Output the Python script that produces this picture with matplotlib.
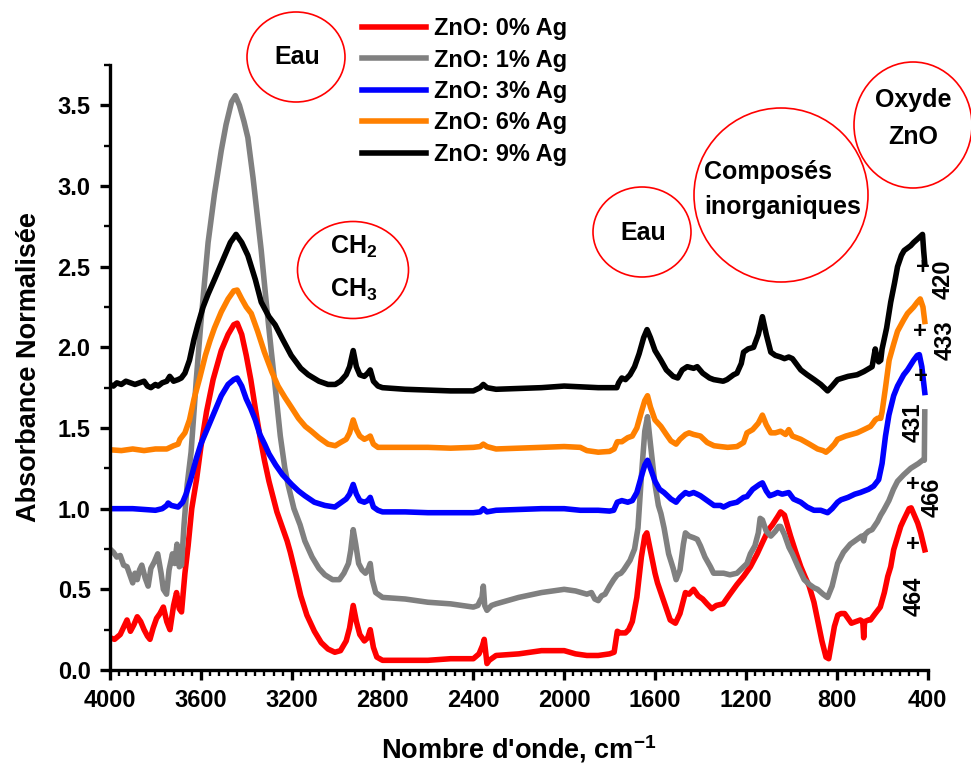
import matplotlib
matplotlib.use('Agg')
import matplotlib.pyplot as plt
from matplotlib.patches import Ellipse
from matplotlib.ticker import MultipleLocator, FormatStrFormatter

# ---- spectra: wavenumber (cm-1) / normalised absorbance ----
wn_0 = [4000, 3980, 3955, 3935, 3925, 3910, 3895, 3880, 3865, 3850, 3835, 3824, 3810, 3795, 3780,
        3765, 3750, 3736, 3720, 3707, 3695, 3685, 3670, 3656, 3640, 3619, 3600, 3575, 3546, 3510,
        3480, 3455, 3440, 3420, 3400, 3380, 3360, 3340, 3320, 3300, 3280, 3265, 3240, 3220, 3206,
        3180, 3160, 3133, 3100, 3070, 3040, 3010, 2985, 2960, 2945, 2929, 2915, 2900, 2880, 2865,
        2854, 2840, 2825, 2800, 2700, 2600, 2500, 2400, 2375, 2360, 2352, 2340, 2330, 2300, 2200,
        2100, 2000, 1950, 1900, 1850, 1800, 1780, 1766, 1753, 1730, 1716, 1700, 1680, 1660, 1645,
        1636, 1620, 1600, 1589, 1560, 1533, 1510, 1490, 1466, 1450, 1430, 1410, 1390, 1371, 1350,
        1330, 1300, 1270, 1239, 1210, 1180, 1150, 1127, 1100, 1083, 1060, 1047, 1030, 1003, 980,
        958, 940, 921, 900, 884, 865, 847, 835, 825, 810, 795, 781, 765, 750, 735,
        715, 696, 685, 681, 677, 660, 651, 630, 608, 590, 575, 562, 549, 518, 505,
        481, 472, 455, 443, 430, 420, 412]
ab_0 = [0.20, 0.19, 0.22, 0.28, 0.31, 0.24, 0.28, 0.33, 0.30, 0.25, 0.21, 0.19, 0.26, 0.32, 0.35,
        0.39, 0.30, 0.25, 0.40, 0.48, 0.38, 0.36, 0.60, 0.77, 1.00, 1.18, 1.38, 1.60, 1.80, 1.98,
        2.08, 2.14, 2.15, 2.08, 1.95, 1.80, 1.62, 1.45, 1.30, 1.17, 1.06, 0.98, 0.88, 0.80, 0.73,
        0.58, 0.46, 0.34, 0.24, 0.17, 0.13, 0.11, 0.12, 0.18, 0.26, 0.40, 0.30, 0.22, 0.18, 0.20,
        0.25, 0.14, 0.08, 0.06, 0.06, 0.06, 0.07, 0.07, 0.10, 0.15, 0.19, 0.04, 0.06, 0.09, 0.10,
        0.12, 0.12, 0.10, 0.09, 0.09, 0.10, 0.11, 0.24, 0.23, 0.23, 0.25, 0.30, 0.45, 0.70, 0.83,
        0.85, 0.74, 0.60, 0.54, 0.42, 0.31, 0.29, 0.35, 0.48, 0.47, 0.50, 0.46, 0.44, 0.41, 0.38,
        0.40, 0.41, 0.47, 0.53, 0.58, 0.64, 0.72, 0.79, 0.87, 0.90, 0.95, 0.98, 0.96, 0.83, 0.73,
        0.64, 0.58, 0.52, 0.42, 0.31, 0.18, 0.08, 0.07, 0.15, 0.27, 0.34, 0.35, 0.35, 0.32, 0.29,
        0.30, 0.31, 0.30, 0.20, 0.30, 0.31, 0.31, 0.35, 0.39, 0.48, 0.58, 0.64, 0.745, 0.89, 0.93,
        1.00, 1.005, 0.95, 0.91, 0.85, 0.79, 0.745]

wn_1 = [4000, 3985, 3970, 3955, 3940, 3925, 3910, 3900, 3890, 3880, 3870, 3860, 3845, 3832, 3820,
        3805, 3790, 3775, 3765, 3751, 3740, 3725, 3715, 3705, 3695, 3685, 3674, 3660, 3643, 3620,
        3600, 3568, 3540, 3510, 3489, 3465, 3448, 3430, 3410, 3393, 3370, 3350, 3334, 3310, 3290,
        3273, 3250, 3230, 3216, 3190, 3163, 3142, 3110, 3080, 3054, 3020, 2990, 2970, 2950, 2940,
        2929, 2918, 2905, 2890, 2875, 2862, 2854, 2845, 2830, 2800, 2700, 2600, 2500, 2400, 2380,
        2370, 2362, 2356, 2350, 2340, 2320, 2300, 2200, 2100, 2000, 1950, 1900, 1880, 1865, 1850,
        1835, 1820, 1800, 1782, 1766, 1750, 1738, 1710, 1690, 1675, 1660, 1645, 1633, 1620, 1600,
        1585, 1574, 1560, 1540, 1520, 1507, 1490, 1475, 1466, 1450, 1430, 1414, 1400, 1380, 1356,
        1342, 1320, 1298, 1270, 1239, 1210, 1195, 1180, 1160, 1145, 1137, 1127, 1110, 1090, 1070,
        1055, 1047, 1030, 1010, 995, 970, 943, 920, 900, 884, 860, 840, 820, 796, 770,
        740, 710, 690, 681, 675, 660, 644, 620, 606, 593, 570, 550, 532, 505, 474,
        440, 422, 414, 412]
ab_1 = [0.75, 0.73, 0.70, 0.71, 0.65, 0.64, 0.58, 0.54, 0.60, 0.56, 0.62, 0.65, 0.57, 0.52, 0.63,
        0.67, 0.72, 0.60, 0.50, 0.47, 0.62, 0.72, 0.66, 0.78, 0.64, 0.65, 0.90, 1.15, 1.35, 1.80,
        2.15, 2.65, 2.95, 3.22, 3.38, 3.52, 3.56, 3.50, 3.40, 3.30, 3.05, 2.80, 2.60, 2.25, 1.98,
        1.76, 1.45, 1.25, 1.15, 1.00, 0.90, 0.80, 0.70, 0.63, 0.59, 0.56, 0.56, 0.60, 0.66, 0.74,
        0.87, 0.78, 0.66, 0.62, 0.60, 0.63, 0.66, 0.56, 0.48, 0.45, 0.44, 0.42, 0.41, 0.39, 0.40,
        0.43, 0.45, 0.52, 0.40, 0.37, 0.40, 0.41, 0.45, 0.48, 0.50, 0.49, 0.47, 0.48, 0.44, 0.43,
        0.46, 0.47, 0.52, 0.56, 0.59, 0.60, 0.62, 0.68, 0.75, 0.88, 1.20, 1.48, 1.57, 1.40, 1.15,
        1.02, 0.97, 0.88, 0.72, 0.63, 0.56, 0.62, 0.78, 0.85, 0.83, 0.82, 0.81, 0.77, 0.70, 0.64,
        0.60, 0.60, 0.60, 0.59, 0.60, 0.64, 0.66, 0.72, 0.77, 0.85, 0.94, 0.93, 0.86, 0.83, 0.86,
        0.89, 0.89, 0.84, 0.76, 0.72, 0.64, 0.56, 0.53, 0.51, 0.50, 0.47, 0.45, 0.52, 0.66, 0.73,
        0.78, 0.81, 0.83, 0.80, 0.84, 0.86, 0.87, 0.92, 0.96, 0.99, 1.05, 1.12, 1.17, 1.21, 1.25,
        1.28, 1.30, 1.30, 1.60]

wn_3 = [4000, 3950, 3900, 3850, 3800, 3770, 3750, 3744, 3730, 3700, 3680, 3665, 3645, 3620, 3600,
        3570, 3540, 3510, 3480, 3455, 3440, 3420, 3400, 3380, 3360, 3340, 3319, 3300, 3270, 3240,
        3200, 3170, 3142, 3100, 3054, 3010, 2990, 2960, 2945, 2929, 2915, 2900, 2880, 2865, 2854,
        2840, 2820, 2800, 2700, 2600, 2500, 2400, 2370, 2356, 2340, 2300, 2200, 2100, 2000, 1929,
        1850, 1800, 1782, 1766, 1746, 1720, 1700, 1680, 1660, 1645, 1633, 1620, 1600, 1580, 1560,
        1530, 1507, 1490, 1466, 1450, 1430, 1414, 1400, 1370, 1340, 1312, 1298, 1270, 1239, 1210,
        1195, 1170, 1140, 1127, 1110, 1095, 1075, 1060, 1040, 1011, 990, 958, 930, 900, 870,
        840, 820, 796, 781, 750, 720, 696, 660, 637, 615, 600, 585, 570, 549, 532,
        505, 488, 461, 445, 436, 425, 412]
ab_3 = [1.00, 1.00, 1.00, 0.995, 0.99, 1.00, 1.02, 1.035, 1.02, 1.01, 1.04, 1.09, 1.18, 1.31, 1.40,
        1.50, 1.60, 1.70, 1.77, 1.80, 1.81, 1.76, 1.68, 1.62, 1.55, 1.46, 1.40, 1.34, 1.27, 1.21,
        1.15, 1.11, 1.08, 1.04, 1.02, 1.01, 1.03, 1.06, 1.09, 1.15, 1.09, 1.05, 1.04, 1.05, 1.07,
        1.01, 0.99, 0.98, 0.98, 0.975, 0.975, 0.975, 0.98, 1.00, 0.98, 0.99, 0.995, 1.00, 1.00, 0.99,
        0.99, 0.985, 0.99, 1.04, 1.05, 1.04, 1.05, 1.10, 1.20, 1.27, 1.30, 1.25, 1.17, 1.12, 1.10,
        1.06, 1.04, 1.07, 1.10, 1.09, 1.10, 1.09, 1.08, 1.05, 1.02, 1.02, 1.01, 1.03, 1.04, 1.07,
        1.075, 1.12, 1.15, 1.16, 1.11, 1.08, 1.09, 1.10, 1.09, 1.10, 1.06, 1.04, 1.01, 0.99, 0.99,
        0.975, 1.00, 1.04, 1.055, 1.07, 1.09, 1.10, 1.12, 1.14, 1.18, 1.28, 1.45, 1.58, 1.70, 1.76,
        1.83, 1.86, 1.92, 1.95, 1.955, 1.88, 1.72]

wn_6 = [4000, 3950, 3900, 3850, 3800, 3750, 3720, 3700, 3692, 3670, 3650, 3630, 3605, 3580, 3560,
        3540, 3510, 3480, 3455, 3440, 3420, 3400, 3378, 3350, 3320, 3288, 3260, 3230, 3202, 3170,
        3140, 3113, 3080, 3040, 3008, 2985, 2960, 2945, 2929, 2915, 2900, 2880, 2865, 2854, 2840,
        2820, 2800, 2700, 2600, 2500, 2400, 2370, 2356, 2340, 2300, 2200, 2100, 2000, 1929, 1900,
        1850, 1800, 1780, 1766, 1746, 1720, 1700, 1680, 1660, 1645, 1633, 1620, 1600, 1574, 1550,
        1530, 1507, 1490, 1466, 1450, 1430, 1400, 1370, 1340, 1312, 1280, 1239, 1210, 1195, 1170,
        1145, 1127, 1110, 1090, 1070, 1047, 1025, 1011, 995, 958, 920, 884, 860, 847, 830,
        810, 796, 760, 710, 680, 651, 640, 630, 620, 606, 600, 585, 569, 549, 532,
        505, 488, 461, 445, 432, 420, 412]
ab_6 = [1.365, 1.36, 1.37, 1.36, 1.37, 1.37, 1.39, 1.40, 1.43, 1.47, 1.55, 1.68, 1.81, 1.95, 2.04,
        2.12, 2.22, 2.30, 2.35, 2.355, 2.30, 2.25, 2.21, 2.10, 1.97, 1.85, 1.76, 1.69, 1.63, 1.56,
        1.51, 1.48, 1.44, 1.40, 1.39, 1.41, 1.43, 1.47, 1.55, 1.49, 1.45, 1.43, 1.44, 1.45, 1.40,
        1.38, 1.38, 1.38, 1.38, 1.375, 1.38, 1.385, 1.40, 1.385, 1.37, 1.375, 1.38, 1.385, 1.38, 1.36,
        1.35, 1.355, 1.37, 1.415, 1.415, 1.44, 1.45, 1.50, 1.60, 1.67, 1.70, 1.63, 1.55, 1.51, 1.46,
        1.42, 1.40, 1.43, 1.46, 1.47, 1.46, 1.45, 1.41, 1.39, 1.385, 1.38, 1.385, 1.41, 1.47, 1.49,
        1.53, 1.58, 1.52, 1.47, 1.47, 1.48, 1.46, 1.49, 1.45, 1.43, 1.40, 1.37, 1.36, 1.35, 1.37,
        1.40, 1.43, 1.45, 1.47, 1.49, 1.51, 1.53, 1.55, 1.56, 1.56, 1.60, 1.75, 1.92, 2.02, 2.10,
        2.17, 2.21, 2.25, 2.28, 2.30, 2.25, 2.16]

wn_9 = [4000, 3985, 3970, 3950, 3930, 3910, 3890, 3870, 3850, 3835, 3820, 3800, 3788, 3770, 3750,
        3737, 3720, 3700, 3686, 3670, 3650, 3630, 3613, 3590, 3568, 3540, 3502, 3470, 3445, 3420,
        3393, 3360, 3334, 3300, 3273, 3240, 3202, 3160, 3127, 3080, 3040, 3008, 2985, 2960, 2945,
        2929, 2915, 2900, 2880, 2865, 2854, 2840, 2820, 2800, 2700, 2600, 2500, 2400, 2370, 2356,
        2340, 2300, 2200, 2100, 2000, 1929, 1850, 1800, 1768, 1760, 1746, 1730, 1710, 1690, 1670,
        1650, 1635, 1620, 1600, 1574, 1550, 1520, 1500, 1480, 1458, 1430, 1414, 1390, 1360, 1341,
        1300, 1283, 1254, 1239, 1220, 1210, 1190, 1166, 1145, 1127, 1110, 1090, 1070, 1047, 1030,
        1011, 995, 958, 930, 899, 870, 840, 820, 796, 750, 710, 680, 644, 630, 622,
        615, 606, 600, 580, 562, 545, 532, 515, 503, 474, 461, 445, 430, 422, 417,
        412]
ab_9 = [1.77, 1.76, 1.78, 1.77, 1.79, 1.78, 1.77, 1.78, 1.79, 1.76, 1.75, 1.77, 1.76, 1.78, 1.79,
        1.82, 1.79, 1.80, 1.81, 1.84, 1.92, 2.05, 2.14, 2.25, 2.33, 2.42, 2.545, 2.65, 2.70, 2.65,
        2.57, 2.42, 2.28, 2.19, 2.14, 2.05, 1.95, 1.87, 1.83, 1.79, 1.77, 1.77, 1.79, 1.83, 1.88,
        1.98, 1.88, 1.83, 1.82, 1.84, 1.86, 1.79, 1.76, 1.75, 1.74, 1.735, 1.73, 1.73, 1.75, 1.77,
        1.75, 1.74, 1.745, 1.75, 1.76, 1.755, 1.75, 1.75, 1.75, 1.78, 1.81, 1.80, 1.83, 1.88, 1.96,
        2.06, 2.11, 2.06, 1.98, 1.92, 1.86, 1.82, 1.81, 1.86, 1.88, 1.87, 1.88, 1.84, 1.81, 1.80,
        1.79, 1.80, 1.83, 1.84, 1.90, 1.97, 1.99, 2.00, 2.08, 2.19, 2.08, 1.97, 1.95, 1.94, 1.93,
        1.94, 1.93, 1.86, 1.83, 1.80, 1.77, 1.73, 1.76, 1.80, 1.82, 1.83, 1.85, 1.88, 1.99, 1.93,
        1.91, 1.92, 1.99, 2.12, 2.28, 2.40, 2.50, 2.57, 2.60, 2.63, 2.65, 2.67, 2.69, 2.70, 2.60,
        2.52]

labels = ['ZnO: 0% Ag', 'ZnO: 1% Ag', 'ZnO: 3% Ag', 'ZnO: 6% Ag', 'ZnO: 9% Ag']
colors = ['#ff0000', '#808080', '#0000ff', '#ff8000', '#000000']
series = [(wn_0, ab_0), (wn_1, ab_1), (wn_3, ab_3), (wn_6, ab_6), (wn_9, ab_9)]

# ZnO band positions marked on the right of each trace
peak_wn = [420, 433, 431, 466, 464]
peak_y = [2.495, 2.10, 1.82, 1.148, 0.776]
peak_offsets = [(20, -12), (25, -9), (-7, -46), (20, -13), (1, -52)]

W, H = 971, 772

plt.rcParams['font.family'] = ['Liberation Sans', 'DejaVu Sans']
plt.rcParams['font.weight'] = 'bold'
plt.rcParams['axes.labelweight'] = 'bold'
plt.rcParams['mathtext.fontset'] = 'custom'
plt.rcParams['mathtext.rm'] = 'Liberation Sans:bold'
plt.rcParams['mathtext.it'] = 'Liberation Sans:bold'
plt.rcParams['mathtext.bf'] = 'Liberation Sans:bold'
plt.rcParams['mathtext.default'] = 'rm'

fig = plt.figure(figsize=(W / 100, H / 100), dpi=100)
ax = fig.add_axes([110 / W, 1 - 670 / H, 817.5 / W, 605 / H])

lines = []
for (x, y), c, lab in zip(series, colors, labels):
    ln, = ax.plot(x, y, color=c, lw=4, label=lab, solid_joinstyle='round')
    lines.append(ln)

ax.set_xlim(4000, 400)
ax.set_ylim(0, 3.75)
ax.xaxis.set_major_locator(MultipleLocator(400))
ax.xaxis.set_minor_locator(MultipleLocator(40))
ax.yaxis.set_major_locator(MultipleLocator(0.5))
ax.yaxis.set_minor_locator(MultipleLocator(0.25))
ax.yaxis.set_major_formatter(FormatStrFormatter('%.1f'))

for s in ['top', 'right']:
    ax.spines[s].set_visible(False)
for s in ['left', 'bottom']:
    ax.spines[s].set_linewidth(2.4)
ax.tick_params(which='major', direction='out', length=7, width=2.4, labelsize=17, pad=7)
ax.tick_params(which='minor', direction='out', length=4, width=1.7)
for t in ax.get_xticklabels() + ax.get_yticklabels():
    t.set_fontweight('bold')

ax.set_xlabel("Nombre d'onde, cm$^{-1}$", fontsize=19.5, fontweight='bold', labelpad=15)
ax.set_ylabel('Absorbance Normalisée', fontsize=19.5, fontweight='bold', labelpad=11)

ax.legend(handles=lines, loc='upper left', bbox_to_anchor=(362 / W, 1 - 17 / H),
          bbox_transform=fig.transFigure, frameon=False, borderpad=0, borderaxespad=0,
          handlelength=2.7, handletextpad=0.35, labelspacing=0.36,
          prop={'size': 17, 'weight': 'bold'})

# peak markers with rotated wavenumber labels
for wn, yv, (dx, dy) in zip(peak_wn, peak_y, peak_offsets):
    ax.text(wn, yv, '+', ha='center', va='center', fontsize=17, fontweight='bold', clip_on=False)
    ax.annotate(str(wn), xy=(wn, yv), xytext=(dx, dy), textcoords='offset pixels',
                rotation=90, ha='center', va='center', fontsize=17, fontweight='bold',
                annotation_clip=False)


def fpos(x, y):
    return x / W, 1 - y / H


# band assignment bubbles
bubbles = [(296, 57, 98, 90), (353, 270, 111, 97), (642, 232, 98, 90),
           (781, 195, 174, 174), (913, 125, 118, 126)]
for cx, cy, w, h in bubbles:
    fig.add_artist(Ellipse(fpos(cx, cy), w / W, h / H, transform=fig.transFigure,
                           fill=False, edgecolor='#ff0000', lw=1.2))

bubble_text = dict(fontsize=18, fontweight='bold', va='center')
fig.text(*fpos(297, 57), 'Eau', ha='center', **bubble_text)
fig.text(*fpos(354, 247), 'CH$_2$', ha='center', **bubble_text)
fig.text(*fpos(354, 290), 'CH$_3$', ha='center', **bubble_text)
fig.text(*fpos(643, 233), 'Eau', ha='center', **bubble_text)
fig.text(*fpos(704, 172), 'Composés', ha='left', **bubble_text)
fig.text(*fpos(704, 207), 'inorganiques', ha='left', **bubble_text)
fig.text(*fpos(913, 100), 'Oxyde', ha='center', **bubble_text)
fig.text(*fpos(913, 137), 'ZnO', ha='center', **bubble_text)

fig.savefig('out.png', dpi=100)
